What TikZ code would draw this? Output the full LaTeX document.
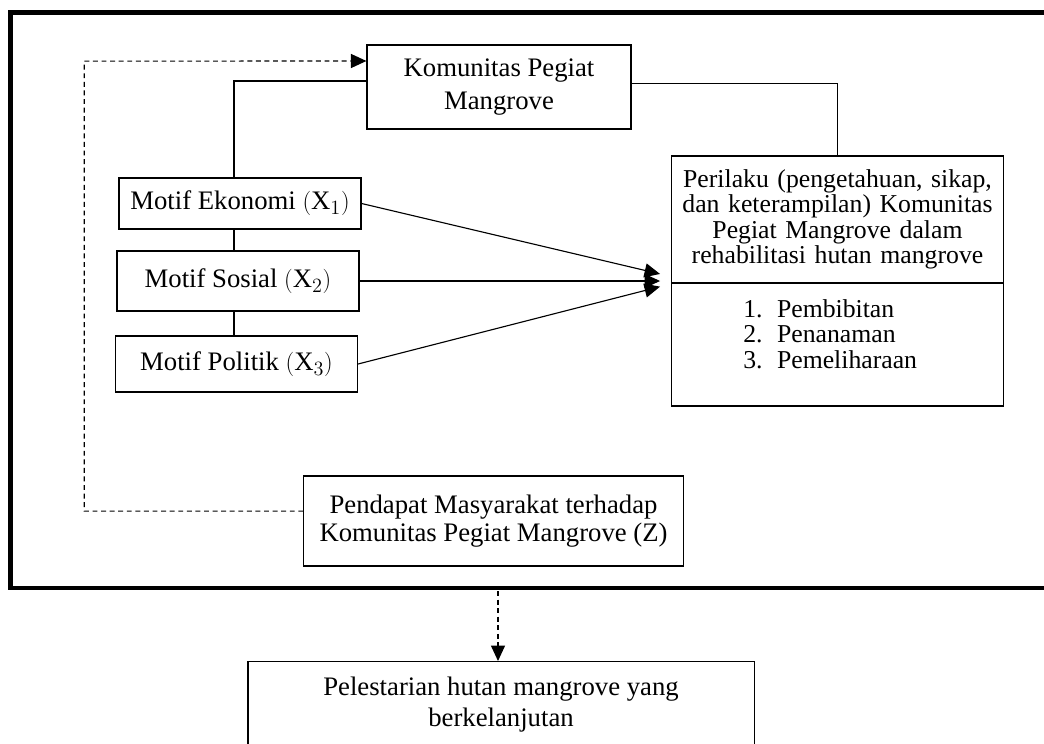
\documentclass[tikz,border=0pt]{standalone}
\usepackage{fontspec}
\setmainfont{Liberation Serif}
\usetikzlibrary{arrows.meta,positioning,calc}

\tikzset{
  % kotak dasar
  box/.style={
    draw,
    line width=0.8pt,
    align=center,
    inner sep=0pt,
    font=\fontsize{19}{21}\selectfont
  },
  % kotak motif (X1, X2, X3)
  motif/.style={box, minimum width=6.05cm},
  % garis penghubung biasa
  link/.style={line width=0.8pt},
  % panah
  arr/.style={-{Triangle[length=11pt,width=10pt]}, line width=0.8pt},
  % panah putus-putus
  darr/.style={arr, dash pattern=on 3.5pt off 2.6pt},
  % bingkai tebal
  frame/.style={line width=3pt},
}

\begin{document}
\begin{tikzpicture}[x=0.025cm, y=-0.025cm]
  \useasboundingbox (0,0) rectangle (1044,743);
  \clip (0,0) rectangle (1044,743);

  % bingkai luar
  \draw[frame] (1070,12.5) -- (10.5,12.5) -- (10.5,588) -- (1070,588);

  % komunitas
  \node[box, minimum width=6.6cm, minimum height=2.1cm,
        font=\fontsize{19}{23.5}\selectfont] (kom) at (499,87) {Komunitas Pegiat\\Mangrove};

  % motif
  \node[motif, minimum height=1.275cm] (eko) at (240,203.5) {Motif Ekonomi $(\mathrm{X}_1)$};
  \node[motif, minimum height=1.5cm] (sos) at (238,281) {Motif Sosial $(\mathrm{X}_2)$};
  \node[motif, minimum height=1.4cm] (pol) at (236.5,364) {Motif Politik $(\mathrm{X}_3)$};

  % perilaku
  \node[box, minimum width=8.28cm, minimum height=6.25cm] (per) at (837.5,281) {};
  \node[align=center, text width=8.28cm, minimum height=3.175cm, inner sep=0pt,
        anchor=north, font=\fontsize{18.3}{18}\selectfont] (perhead) at (per.north)
        {Perilaku (pengetahuan, sikap,\\dan keterampilan) Komunitas\\Pegiat Mangrove dalam\\rehabilitasi hutan mangrove};
  \draw[link] (perhead.south west) -- (perhead.south east);
  \node[anchor=west, align=left, inner sep=0pt,
        font=\fontsize{18.3}{18.3}\selectfont] (perlist) at (743,334)
        {\makebox[24pt][l]{1.}Pembibitan\\\makebox[24pt][l]{2.}Penanaman\\\makebox[24pt][l]{3.}Pemeliharaan};

  % pendapat masyarakat
  \node[box, minimum width=9.48cm, minimum height=2.25cm,
        font=\fontsize{19}{19.5}\selectfont] (pen) at (493.5,521)
        {Pendapat Masyarakat terhadap\\Komunitas Pegiat Mangrove (Z)};

  % pelestarian
  \node[box, minimum width=12.65cm, minimum height=2.15cm, anchor=north,
        font=\fontsize{19}{22}\selectfont] (pel) at (501,661)
        {Pelestarian hutan mangrove yang\\berkelanjutan};

  % garis penghubung
  \coordinate (sp) at (234,0);
  \draw[link] (sp |- eko.north) |- ([yshift=4.3pt]kom.west);
  \draw[link] (sp |- eko.south) -- (sp |- sos.north);
  \draw[link] (sp |- sos.south) -- (sp |- pol.north);
  \draw[link] ([yshift=2.8pt]kom.east) -| (per.north);

  % panah motif ke perilaku
  \draw[arr] (eko.east) -- ([xshift=-8pt,yshift=5pt]per.west);
  \draw[arr] (sos.east) -- ([xshift=-8pt]per.west);
  \draw[arr] (pol.east) -- ([xshift=-8pt,yshift=-4pt]per.west);

  % umpan balik putus-putus
  \draw[darr] ([yshift=7pt]pen.west) -| ++(-219,-450) -- ([yshift=18.5pt]kom.west);

  % ke pelestarian
  \coordinate (fb) at (498,591);
  \draw[darr] (fb) -- (fb |- pel.north);
\end{tikzpicture}
\end{document}
